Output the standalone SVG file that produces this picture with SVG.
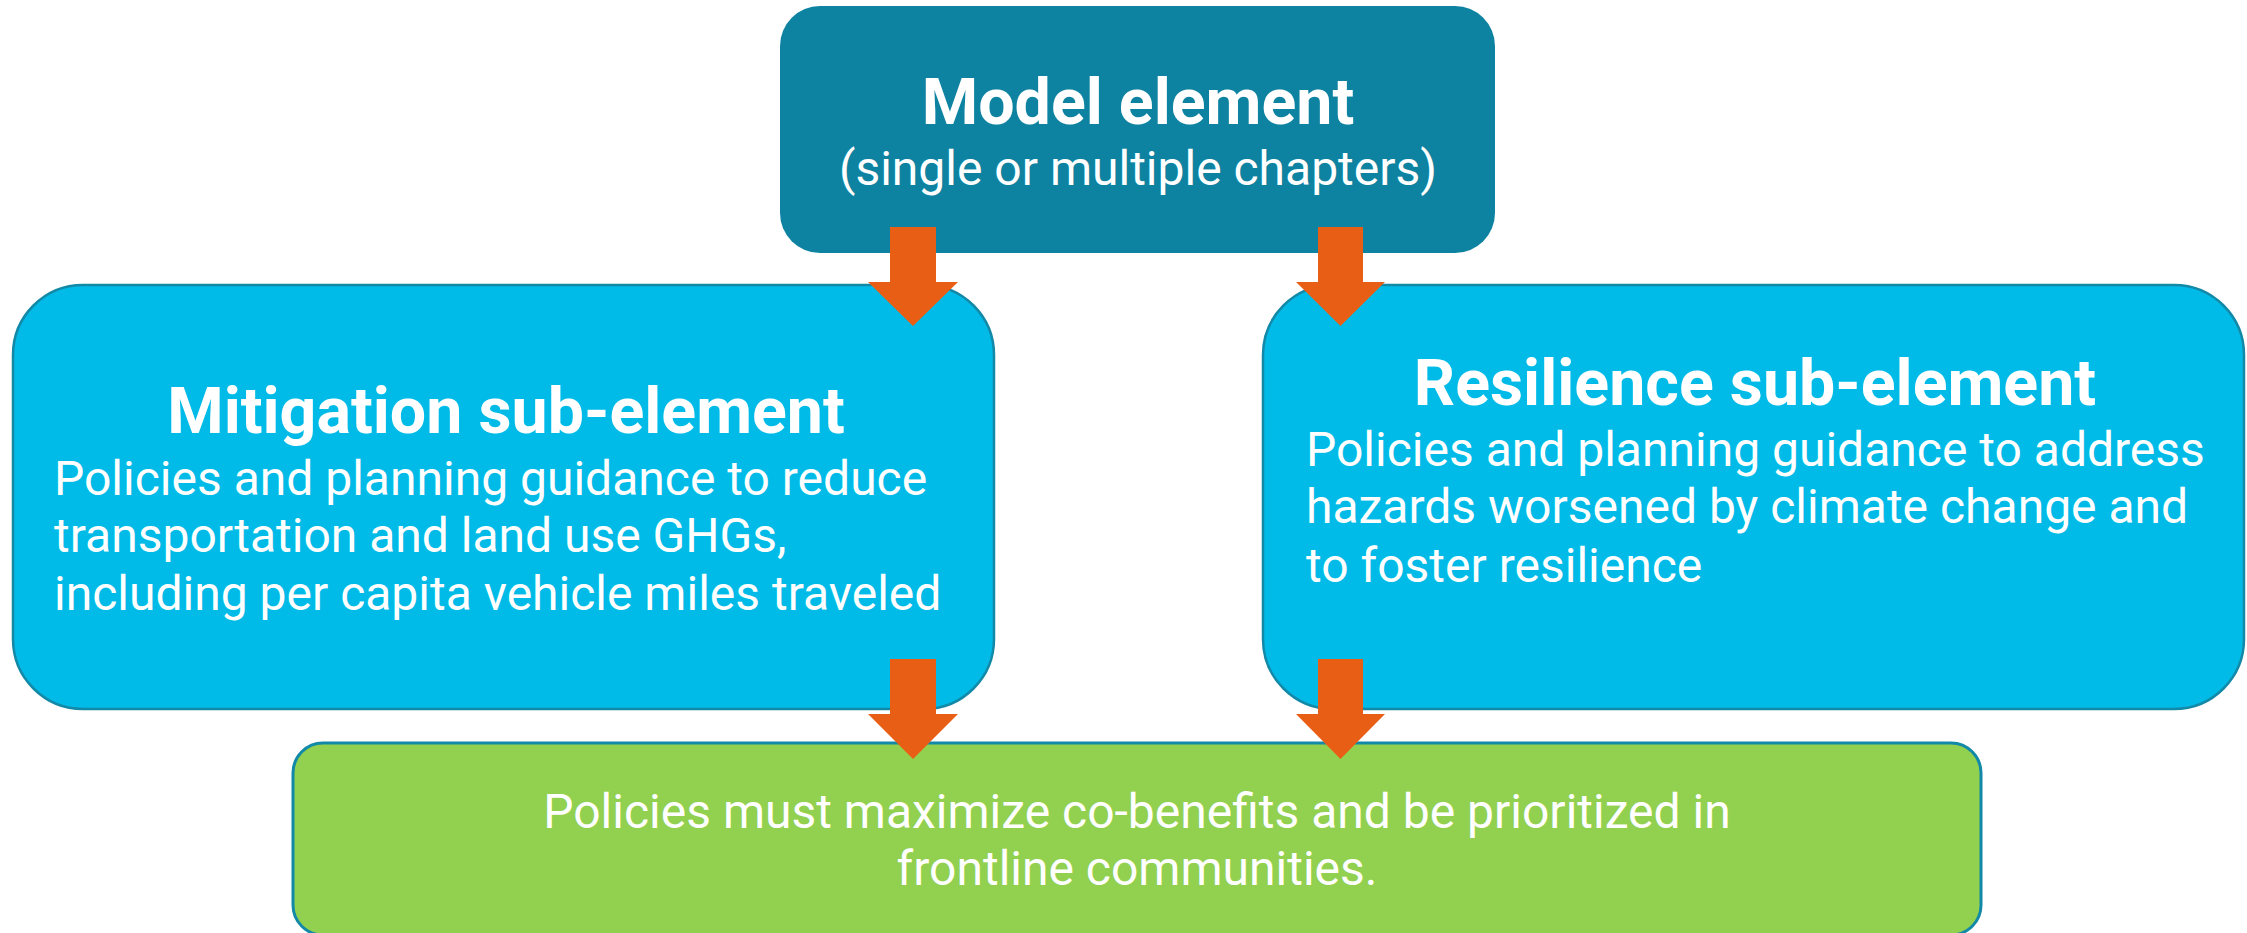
<svg xmlns="http://www.w3.org/2000/svg" width="2247" height="933" viewBox="0 0 2247 933">
<style>
.t{font-family:Roboto,"Liberation Sans",sans-serif;fill:#ffffff}
.b{font-weight:bold;font-size:64.5px}
.r{font-size:48px}
.sub{fill:#00BBE7;stroke:#1389A8;stroke-width:2.5}
.arr{fill:#E95E15}
</style>
<rect width="2247" height="933" fill="#ffffff"/>
<g id="model">
<rect x="780" y="6" width="715" height="247" rx="40" ry="40" fill="#0E83A1"/>
<text class="t b" x="1138" y="124" text-anchor="middle">Model element</text>
<text class="t r" x="1138" y="185" text-anchor="middle">(single or multiple chapters)</text>
</g>
<g id="mitigation">
<rect class="sub" x="13" y="285" width="981" height="424" rx="70" ry="70"/>
<text class="t b" x="506" y="433" text-anchor="middle">Mitigation sub-element</text>
<text class="t r" x="54" y="495">Policies and planning guidance to reduce</text>
<text class="t r" x="54" y="552">transportation and land use GHGs,</text>
<text class="t r" x="54" y="610">including per capita vehicle miles traveled</text>
</g>
<g id="resilience">
<rect class="sub" x="1263" y="285" width="981" height="424" rx="70" ry="70"/>
<text class="t b" x="1755" y="405" text-anchor="middle">Resilience sub-element</text>
<text class="t r" x="1306" y="466">Policies and planning guidance to address</text>
<text class="t r" x="1306" y="523">hazards worsened by climate change and</text>
<text class="t r" x="1306" y="582">to foster resilience</text>
</g>
<g id="outcome">
<rect x="293" y="743" width="1688" height="192" rx="30" ry="30" fill="#92D050" stroke="#1389A8" stroke-width="3"/>
<text class="t r" x="1137" y="828" text-anchor="middle">Policies must maximize co-benefits and be prioritized in</text>
<text class="t r" x="1137" y="885" text-anchor="middle">frontline communities.</text>
</g>
<g id="connectors">
<polygon class="arr" points="890,227 936,227 936,282 958,282 913,326 868,282 890,282"/>
<polygon class="arr" points="1318,227 1363,227 1363,282 1385,282 1340.5,326 1296,282 1318,282"/>
<polygon class="arr" points="890,659 936,659 936,714 958,714 913,759 868,714 890,714"/>
<polygon class="arr" points="1318,659 1363,659 1363,714 1385,714 1340.5,759 1296,714 1318,714"/>
</g>
</svg>
